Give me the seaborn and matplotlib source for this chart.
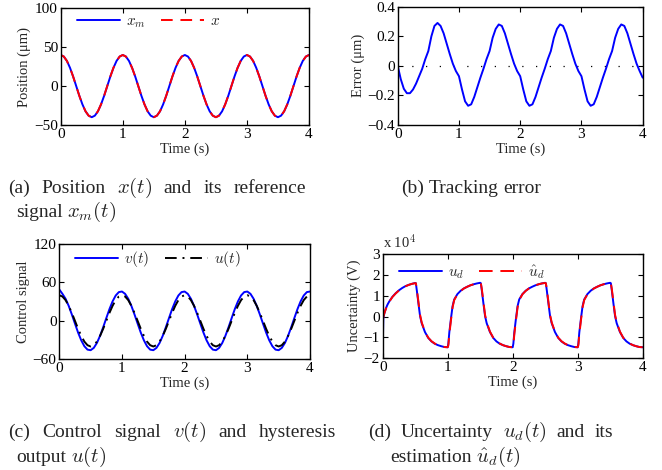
import numpy as np
import matplotlib
matplotlib.use("Agg")
import matplotlib.pyplot as plt
import seaborn as sns

# time grid (s) for panels a-c
t = np.round(np.arange(0, 4.0001, 0.05), 2)

# (a) position reference x_m and position x (um)
pos_xm = [40.0, 38.0, 32.4, 23.5, 12.4, 0.0, -12.4, -23.5, -32.4, -38.0, -40.0, -38.0, -32.4, -23.5, -12.4, 0.0, 12.4, 23.5, 32.4, 38.0,
          40.0, 38.0, 32.4, 23.5, 12.4, 0.0, -12.4, -23.5, -32.4, -38.0, -40.0, -38.0, -32.4, -23.5, -12.4, 0.0, 12.4, 23.5, 32.4, 38.0,
          40.0, 38.0, 32.4, 23.5, 12.4, 0.0, -12.4, -23.5, -32.4, -38.0, -40.0, -38.0, -32.4, -23.5, -12.4, 0.0, 12.4, 23.5, 32.4, 38.0,
          40.0, 38.0, 32.4, 23.5, 12.4, 0.0, -12.4, -23.5, -32.4, -38.0, -40.0, -38.0, -32.4, -23.5, -12.4, 0.0, 12.4, 23.5, 32.4, 38.0,
          40.0]
pos_x = [40.0, 38.0, 32.3, 23.4, 12.3, -0.1, -12.5, -23.6, -32.4, -38.0, -40.0, -38.0, -32.3, -23.4, -12.3, 0.1, 12.5, 23.6, 32.4, 38.0,
         40.0, 38.0, 32.3, 23.4, 12.3, -0.1, -12.5, -23.6, -32.4, -38.0, -40.0, -38.0, -32.3, -23.4, -12.3, 0.1, 12.5, 23.6, 32.4, 38.0,
         40.0, 38.0, 32.3, 23.4, 12.3, -0.1, -12.5, -23.6, -32.4, -38.0, -40.0, -38.0, -32.3, -23.4, -12.3, 0.1, 12.5, 23.6, 32.4, 38.0,
         40.0, 38.0, 32.3, 23.4, 12.3, -0.1, -12.5, -23.6, -32.4, -38.0, -40.0, -38.0, -32.3, -23.4, -12.3, 0.1, 12.5, 23.6, 32.4, 38.0,
         40.0]

# (b) tracking error (um)
err = [0.0, -0.09, -0.155, -0.185, -0.185, -0.16, -0.12, -0.07, -0.02, 0.045, 0.10, 0.20, 0.27, 0.29, 0.27, 0.22, 0.15, 0.08, 0.015, -0.035,
       -0.07, -0.16, -0.24, -0.27, -0.26, -0.21, -0.145, -0.08, -0.02, 0.045, 0.10, 0.19, 0.25, 0.28, 0.27, 0.22, 0.15, 0.08, 0.015, -0.035,
       -0.07, -0.16, -0.24, -0.27, -0.26, -0.21, -0.145, -0.08, -0.02, 0.045, 0.10, 0.19, 0.25, 0.28, 0.27, 0.22, 0.15, 0.08, 0.015, -0.035,
       -0.07, -0.16, -0.24, -0.27, -0.26, -0.21, -0.145, -0.08, -0.02, 0.045, 0.10, 0.19, 0.25, 0.28, 0.27, 0.22, 0.15, 0.08, 0.015, -0.035,
       -0.08]

# (c) control signal v(t) and hysteresis output u(t)
ctrl_v = [49.0, 42.2, 34.5, 23.4, 10.0, -4.3, -18.3, -30.4, -39.6, -44.9, -45.8, -42.2, -34.5, -23.4, -10.0, 4.3, 18.3, 30.4, 39.6, 44.9,
          45.8, 42.2, 34.5, 23.4, 10.0, -4.3, -18.3, -30.4, -39.6, -44.9, -45.8, -42.2, -34.5, -23.4, -10.0, 4.3, 18.3, 30.4, 39.6, 44.9,
          45.8, 42.2, 34.5, 23.4, 10.0, -4.3, -18.3, -30.4, -39.6, -44.9, -45.8, -42.2, -34.5, -23.4, -10.0, 4.3, 18.3, 30.4, 39.6, 44.9,
          45.8, 42.2, 34.5, 23.4, 10.0, -4.3, -18.3, -30.4, -39.6, -44.9, -45.8, -42.2, -34.5, -23.4, -10.0, 4.3, 18.3, 30.4, 39.6, 44.9,
          45.8]
ctrl_u = [40.0, 38.0, 32.4, 23.5, 12.4, 0.0, -12.4, -23.5, -32.4, -38.0, -40.0, -38.0, -32.4, -23.5, -12.4, 0.0, 12.4, 23.5, 32.4, 38.0,
          40.0, 38.0, 32.4, 23.5, 12.4, 0.0, -12.4, -23.5, -32.4, -38.0, -40.0, -38.0, -32.4, -23.5, -12.4, 0.0, 12.4, 23.5, 32.4, 38.0,
          40.0, 38.0, 32.4, 23.5, 12.4, 0.0, -12.4, -23.5, -32.4, -38.0, -40.0, -38.0, -32.4, -23.5, -12.4, 0.0, 12.4, 23.5, 32.4, 38.0,
          40.0, 38.0, 32.4, 23.5, 12.4, 0.0, -12.4, -23.5, -32.4, -38.0, -40.0, -38.0, -32.4, -23.5, -12.4, 0.0, 12.4, 23.5, 32.4, 38.0,
          40.0]

# (d) uncertainty u_d and estimate (x 10^4 V), denser samples near the jumps
d_offsets = [0, 0.01, 0.025, 0.05, 0.075, 0.1, 0.15, 0.2, 0.25, 0.3, 0.35, 0.4, 0.45,
             0.5, 0.51, 0.525, 0.55, 0.575, 0.6, 0.65, 0.7, 0.75, 0.8, 0.85, 0.9, 0.95]
d_time = np.concatenate([np.array(d_offsets) + n for n in range(4)] + [[4.0]])
ud = [-1.55, -0.05, 0.15, 0.40, 0.58, 0.72, 0.95, 1.12, 1.26, 1.37, 1.46, 1.52, 1.57, 1.61, 1.60, 1.25, 0.62, 0.02, -0.32, -0.74, -1.02, -1.19, -1.30, -1.37, -1.42, -1.46,
      -1.47, -1.30, -0.75, -0.10, 0.50, 0.82, 1.08, 1.24, 1.35, 1.43, 1.50, 1.55, 1.59, 1.62, 1.60, 1.25, 0.62, 0.02, -0.32, -0.74, -1.02, -1.19, -1.30, -1.37, -1.42, -1.46,
      -1.47, -1.30, -0.75, -0.10, 0.50, 0.82, 1.08, 1.24, 1.35, 1.43, 1.50, 1.55, 1.59, 1.62, 1.60, 1.25, 0.62, 0.02, -0.32, -0.74, -1.02, -1.19, -1.30, -1.37, -1.42, -1.46,
      -1.47, -1.30, -0.75, -0.10, 0.50, 0.82, 1.08, 1.24, 1.35, 1.43, 1.50, 1.55, 1.59, 1.62, 1.60, 1.25, 0.62, 0.02, -0.32, -0.74, -1.02, -1.19, -1.30, -1.37, -1.42, -1.46,
      -1.47]
ud_hat = [-0.20, -0.02, 0.15, 0.38, 0.57, 0.71, 0.94, 1.11, 1.25, 1.36, 1.45, 1.52, 1.57, 1.60, 1.60, 1.32, 0.70, 0.08, -0.28, -0.72, -1.01, -1.18, -1.29, -1.37, -1.42, -1.46,
          -1.47, -1.38, -0.85, -0.18, 0.44, 0.79, 1.07, 1.23, 1.35, 1.43, 1.50, 1.55, 1.59, 1.61, 1.60, 1.32, 0.70, 0.08, -0.28, -0.72, -1.01, -1.18, -1.29, -1.37, -1.42, -1.46,
          -1.47, -1.38, -0.85, -0.18, 0.44, 0.79, 1.07, 1.23, 1.35, 1.43, 1.50, 1.55, 1.59, 1.61, 1.60, 1.32, 0.70, 0.08, -0.28, -0.72, -1.01, -1.18, -1.29, -1.37, -1.42, -1.46,
          -1.47, -1.38, -0.85, -0.18, 0.44, 0.79, 1.07, 1.23, 1.35, 1.43, 1.50, 1.55, 1.59, 1.61, 1.60, 1.32, 0.70, 0.08, -0.28, -0.72, -1.01, -1.18, -1.29, -1.37, -1.42, -1.46,
          -1.47]

x_ticks = [0, 1, 2, 3, 4]

sns.set_theme(style="ticks")
plt.rcParams["font.family"] = ["Liberation Serif", "DejaVu Serif"]
plt.rcParams["mathtext.fontset"] = "cm"
plt.rcParams["xtick.direction"] = "in"
plt.rcParams["ytick.direction"] = "in"
plt.rcParams["xtick.top"] = True
plt.rcParams["ytick.right"] = True
plt.rcParams["axes.edgecolor"] = "black"
plt.rcParams["axes.linewidth"] = 1.0

W, H = 662, 470
fig = plt.figure(figsize=(W / 100, H / 100), dpi=100)


def make_ax(left, top, right, bottom):
    return fig.add_axes([left / W, 1 - bottom / H, (right - left) / W, (bottom - top) / H])


def style_ax(ax, ylim, yticks, ylabel):
    ax.set_xlim(0, 4)
    ax.set_ylim(*ylim)
    ax.set_xticks(x_ticks)
    ax.set_yticks(yticks)
    ax.tick_params(labelsize=11, length=3.5, width=0.8, colors="black", pad=2)
    ax.set_xlabel("Time (s)", fontsize=10.5, labelpad=1)
    ax.set_ylabel(ylabel, fontsize=10.5, labelpad=2)
    for s in ax.spines.values():
        s.set_visible(True)
        s.set_color("black")


def put_legend(ax, dx, dy):
    # dx, dy: pixel offset of the legend box from the axes top-left corner
    bb = ax.get_position()
    ax.legend(loc="upper left", bbox_to_anchor=(dx / (bb.width * W), 1 - dy / (bb.height * H)),
              borderaxespad=0, ncol=2, frameon=False, fontsize=11, handlelength=2.8,
              handletextpad=0.4, columnspacing=1.0)


# (a)
ax = make_ax(60.7, 8.3, 309, 125)
sns.lineplot(x=t, y=pos_xm, ax=ax, color="#0000ff", lw=1.4, label="$x_m$")
sns.lineplot(x=t, y=pos_x, ax=ax, color="#ff0000", lw=1.4, linestyle=(0, (6, 4)), label="$x$")
style_ax(ax, (-50, 100), [-50, 0, 50, 100], "Position (μm)")
put_legend(ax, 10, 0)

# (b)
ax = make_ax(397.7, 6.7, 642.7, 125)
ax.axhline(0, color="black", lw=0.9, linestyle=(0, (1, 10)))
sns.lineplot(x=t, y=err, ax=ax, color="#0000ff", lw=1.4)
style_ax(ax, (-0.4, 0.4), [-0.4, -0.2, 0, 0.2, 0.4], "Error (μm)")
ax.set_yticklabels(["\u22120.4", "\u22120.2", "0", "0.2", "0.4"])

# (c)
ax = make_ax(59.3, 244, 310, 359.3)
sns.lineplot(x=t, y=ctrl_v, ax=ax, color="#0000ff", lw=1.4, label="$v(t)$")
sns.lineplot(x=t, y=ctrl_u, ax=ax, color="black", lw=1.4, linestyle=(0, (6, 3, 1, 3)), label="$u(t)$")
style_ax(ax, (-60, 120), [-60, 0, 60, 120], "Control signal")
put_legend(ax, 10, -1)

# (d)
ax = make_ax(382.7, 254, 642.7, 358.3)
sns.lineplot(x=d_time, y=ud, ax=ax, color="#0000ff", lw=1.4, label="$u_d$")
sns.lineplot(x=d_time, y=ud_hat, ax=ax, color="#ff0000", lw=1.4, linestyle=(0, (7, 4)), label="$\\hat{u}_d$")
style_ax(ax, (-2, 3), [-2, -1, 0, 1, 2, 3], "Uncertainty (V)")
put_legend(ax, 10, 3)
ax.text(0.0, 1.03, "x 10$^4$", transform=ax.transAxes, fontsize=10.5, ha="left", va="bottom")

# sub-captions (first lines justified to the column width)
cap_size = 14.0
math_size = 14.8
renderer = fig.canvas.get_renderer()


def word_size(w):
    return math_size if w.startswith("$") else cap_size


def line(words, x0, y, x1=None):
    texts = [fig.text(0, 1 - y / H, w, fontsize=word_size(w), va="baseline", ha="left") for w in words]
    widths = [tx.get_window_extent(renderer).width for tx in texts]
    space = 0.25 * cap_size * 100 / 72
    gap = space if x1 is None else (x1 - x0 - sum(widths)) / (len(words) - 1)
    x = x0
    for tx, w in zip(texts, widths):
        tx.set_x(x / W)
        x += w + gap


line(["(a)", "Position", "$x(t)$", "and", "its", "reference"], 8, 193, 306)
line(["signal", "$x_m(t)$"], 16, 217)
line(["(b)", "Tracking", "error"], 401, 193)
line(["(c)", "Control", "signal", "$v(t)$", "and", "hysteresis"], 8, 437, 336)
line(["output", "$u(t)$"], 16, 462)
line(["(d)", "Uncertainty", "$u_d(t)$", "and", "its"], 368, 437, 613)
line(["estimation", "$\\hat{u}_d(t)$"], 390, 462)

fig.savefig("out.png", dpi=100)
